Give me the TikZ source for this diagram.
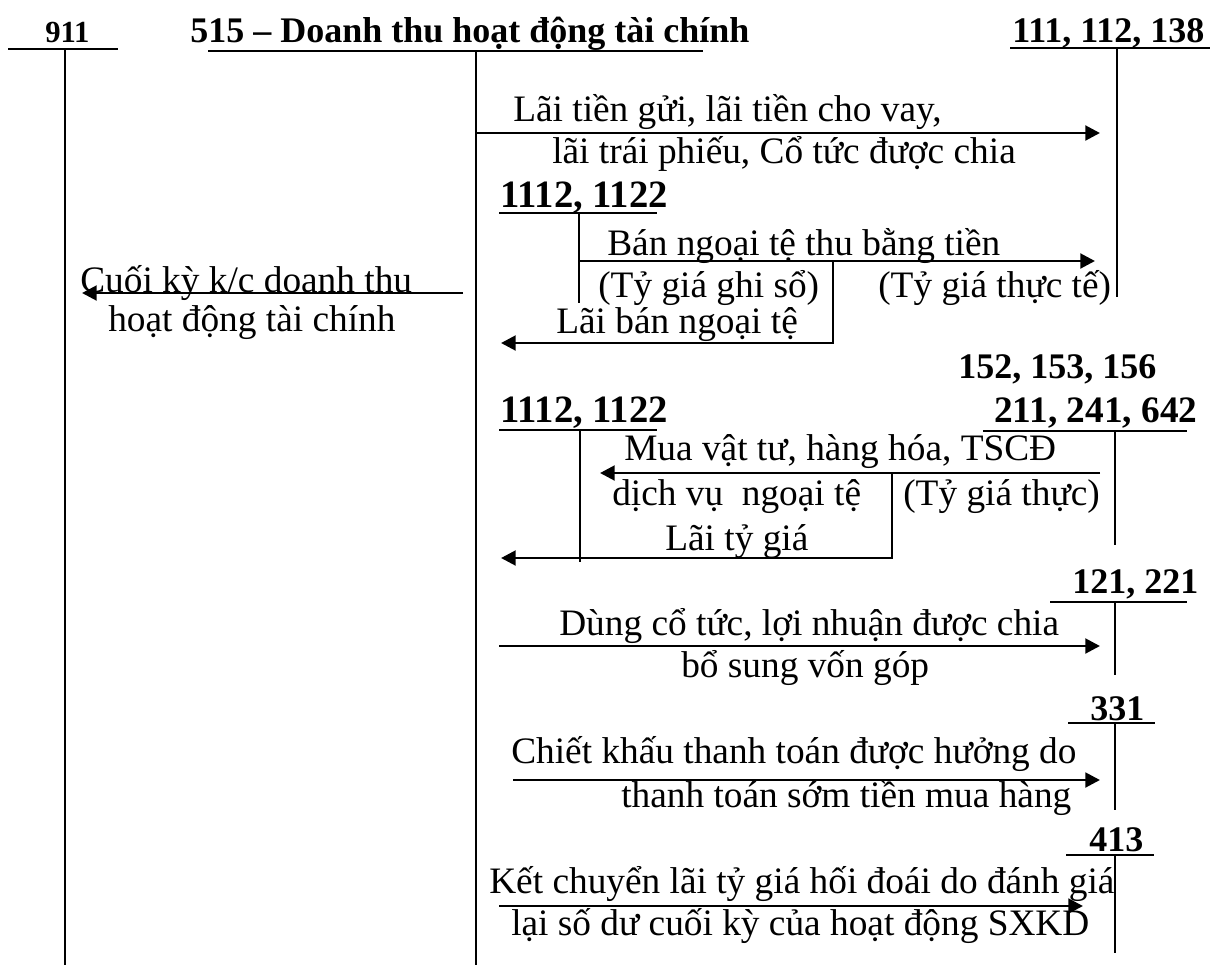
\documentclass[tikz,border=0pt]{standalone}
\usepackage{fontspec}
\setmainfont{Liberation Serif}
\usetikzlibrary{arrows.meta}
\begin{document}
\begin{tikzpicture}[x=0.75pt,y=-0.75pt,
  txt/.style={inner sep=0pt, anchor=base west, font=\fontsize{28}{32}\selectfont},
  bt/.style={inner sep=0pt, anchor=base west, font=\fontsize{27}{32}\selectfont\bfseries},
  acc/.style={line width=1.6pt},
  arr/.style={line width=2.2pt, -{Triangle[length=11pt,width=11pt]}},
  ln/.style={line width=1.6pt}]
\useasboundingbox (0,0) rectangle (1221,965);
% headings
\node[bt, font=\fontsize{23}{26}\selectfont\bfseries] (h911) at (45,42) {911};
\node[bt] (h515) at (190,42) {515 – Doanh thu hoạt động tài chính};
\node[bt] (h111) at (1012,42) {111, 112, 138};
% T-account coordinates
\coordinate (u911a) at (8,49);   \coordinate (u911b) at (118,49);
\coordinate (v911a) at (65,49);  \coordinate (v911b) at (65,965);
\coordinate (u515a) at (208,51); \coordinate (u515b) at (703,51);
\coordinate (v515a) at (476,51); \coordinate (v515b) at (476,965);
\coordinate (u111a) at (1010,48); \coordinate (u111b) at (1210,48);
\coordinate (v111a) at (1117,48); \coordinate (v111b) at (1117,297);
\draw[acc] (u911a) -- (u911b) (v911a) -- (v911b);
\draw[acc] (u515a) -- (u515b) (v515a) -- (v515b);
\draw[acc] (u111a) -- (u111b) (v111a) -- (v111b);
% 1: interest
\node[txt] (l1a) at (513,121) {Lãi tiền gửi, lãi tiền cho vay,};
\node[txt] (l1b) at (552,163) {lãi trái phiếu, Cổ tức được chia};
\coordinate (a1s) at (476,133); \coordinate (a1e) at (1100,133);
\draw[arr] (a1s) -- (a1e);
% 2: sale of foreign currency
\node[bt, font=\fontsize{29}{32}\selectfont\bfseries] (h1112a) at (500,207) {1112, 1122};
\coordinate (u1112a) at (499,213); \coordinate (u1112b) at (657,213);
\coordinate (v1112a) at (579,213); \coordinate (v1112b) at (579,303);
\draw[acc] (u1112a) -- (u1112b) (v1112a) -- (v1112b);
\node[txt] (l2a) at (607,255) {Bán ngoại tệ thu bằng tiền};
\node[txt] (l2b) at (598,297) {(Tỷ giá ghi sổ)};
\node[txt] (l2c) at (878,297) {(Tỷ giá thực tế)};
\node[txt] (l2d) at (556,333) {Lãi bán ngoại tệ};
\coordinate (a2s) at (579,261); \coordinate (a2e) at (1095,261);
\draw[arr] (a2s) -- (a2e);
\coordinate (b2a) at (833,261); \coordinate (b2b) at (833,343); \coordinate (b2e) at (501,343);
\draw[arr] (b2a) -- (b2b) -- (b2e);
% closing entry
\node[txt] (l3a) at (80,292) {Cuối kỳ k/c doanh thu};
\node[txt] (l3b) at (108,331) {hoạt động tài chính};
\coordinate (a3s) at (463,293); \coordinate (a3e) at (82,293);
\draw[arr] (a3s) -- (a3e);
% 3: purchases in foreign currency
\node[bt] (h152) at (958,378) {152, 153, 156};
\node[bt, font=\fontsize{29}{32}\selectfont\bfseries] (h1112b) at (500,422) {1112, 1122};
\node[bt, font=\fontsize{28}{32}\selectfont\bfseries] (h211) at (994,422) {211, 241, 642};
\coordinate (u1112c) at (499,430); \coordinate (u1112d) at (657,430);
\coordinate (v1112c) at (580,430); \coordinate (v1112d) at (580,562);
\coordinate (u211a) at (983,431); \coordinate (u211b) at (1187,431);
\coordinate (v211a) at (1115,431); \coordinate (v211b) at (1115,545);
\draw[acc] (u1112c) -- (u1112d) (v1112c) -- (v1112d);
\draw[acc] (u211a) -- (u211b) (v211a) -- (v211b);
\node[txt] (l4a) at (624,460) {Mua vật tư, hàng hóa, TSCĐ};
\node[txt] (l4b) at (612,505) {dịch vụ\ \ ngoại tệ};
\node[txt] (l4c) at (903,505) {(Tỷ giá thực)};
\node[txt] (l4d) at (665,550) {Lãi tỷ giá};
\coordinate (a4s) at (1100,473); \coordinate (a4e) at (600,473);
\draw[arr] (a4s) -- (a4e);
\coordinate (b4a) at (892,473); \coordinate (b4b) at (892,558); \coordinate (b4e) at (501,558);
\draw[arr] (b4a) -- (b4b) -- (b4e);
% 4: 121, 221
\node[bt] (h121) at (1072,593) {121, 221};
\coordinate (u121a) at (1050,602); \coordinate (u121b) at (1187,602);
\coordinate (v121a) at (1115,602); \coordinate (v121b) at (1115,675);
\draw[acc] (u121a) -- (u121b) (v121a) -- (v121b);
\node[txt] (l5a) at (559,635) {Dùng cổ tức, lợi nhuận được chia};
\node[txt] (l5b) at (681,677) {bổ sung vốn góp};
\coordinate (a5s) at (499,646); \coordinate (a5e) at (1100,646);
\draw[arr] (a5s) -- (a5e);
% 5: 331
\node[bt] (h331) at (1090,720) {331};
\coordinate (u331a) at (1068,723); \coordinate (u331b) at (1155,723);
\coordinate (v331a) at (1115,723); \coordinate (v331b) at (1115,810);
\draw[acc] (u331a) -- (u331b) (v331a) -- (v331b);
\node[txt] (l6a) at (511,763) {Chiết khấu thanh toán được hưởng do};
\node[txt] (l6b) at (621,807) {thanh toán sớm tiền mua hàng};
\coordinate (a6s) at (513,780); \coordinate (a6e) at (1100,780);
\draw[arr] (a6s) -- (a6e);
% 6: 413
\node[bt] (h413) at (1089,851) {413};
\coordinate (u413a) at (1066,855); \coordinate (u413b) at (1154,855);
\coordinate (v413a) at (1115,855); \coordinate (v413b) at (1115,953);
\draw[acc] (u413a) -- (u413b) (v413a) -- (v413b);
\node[txt] (l7a) at (489,893) {Kết chuyển lãi tỷ giá hối đoái do đánh giá};
\node[txt] (l7b) at (511,935) {lại số dư cuối kỳ của hoạt động SXKD};
\coordinate (a7s) at (499,906); \coordinate (a7e) at (1083,906);
\draw[arr] (a7s) -- (a7e);
\end{tikzpicture}
\end{document}
